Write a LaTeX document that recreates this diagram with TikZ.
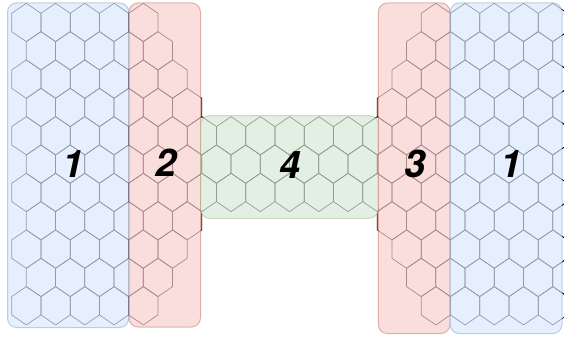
\documentclass[tikz,border=0pt]{standalone}
\usepackage{fontspec}
\setmainfont{TeX Gyre Heros}
\begin{document}
\begin{tikzpicture}[x=1pt,y=-1pt,
  hexline/.style={draw=black,line width=0.7pt,line join=round},
  region/.style={rounded corners=9pt,line width=1pt,fill opacity=0.68,draw opacity=0.4},
  bluereg/.style={region,fill={rgb,255:red,218;green,232;blue,252},draw={rgb,255:red,108;green,142;blue,191}},
  redreg/.style={region,fill={rgb,255:red,248;green,206;blue,204},draw={rgb,255:red,184;green,84;blue,80}},
  greenreg/.style={region,fill={rgb,255:red,213;green,232;blue,212},draw={rgb,255:red,130;green,179;blue,102}},
  numlabel/.style={font=\fontsize{38}{38}\selectfont\bfseries\itshape,inner sep=0pt}]
\useasboundingbox (0,0) rectangle (564,339);
\clip (0,0) rectangle (564,339);

% honeycomb: hexagon of row \r, column \k
\newcommand\hexcell[2]{%
  \pgfmathsetmacro\hL{11.7+#2*29.25+mod(#1,2)*14.625}%
  \pgfmathsetmacro\hT{3.3+#1*28.33}%
  \draw[hexline] (\hL+14.625,\hT) -- (\hL+29.25,\hT+10) -- (\hL+29.25,\hT+28.33)
    -- (\hL+14.625,\hT+38.33) -- (\hL,\hT+28.33) -- (\hL,\hT+10) -- cycle;}

% row / last column of the left part / first column of the right part
\foreach \r/\a/\b in {0/4/14,1/4/13,2/5/13,3/5/12,4/9/10,5/9/10,6/9/10,7/5/12,8/5/13,9/4/13,10/4/14}{
  \foreach \k in {0,...,\a}{\hexcell{\r}{\k}}
  \foreach \k in {\b,...,18}{\hexcell{\r}{\k}}
}

% regions
\draw[bluereg]  (7.5,3) rectangle (128.7,327.5);
\draw[redreg]   (129,3) rectangle (200.5,327);
\draw[greenreg] (200.5,115.7) rectangle (378.3,218.3);
\draw[redreg]   (378.3,3) rectangle (450,333.5);
\draw[bluereg]  (450.2,3) rectangle (562,333.5);

% labels
\node[numlabel] (leadL) at (73,164) {1};
\node[numlabel] (contL) at (166,163) {2};
\node[numlabel] (scat)  at (290,165) {4};
\node[numlabel] (contR) at (415,164) {3};
\node[numlabel] (leadR) at (511,164) {1};
\end{tikzpicture}
\end{document}
